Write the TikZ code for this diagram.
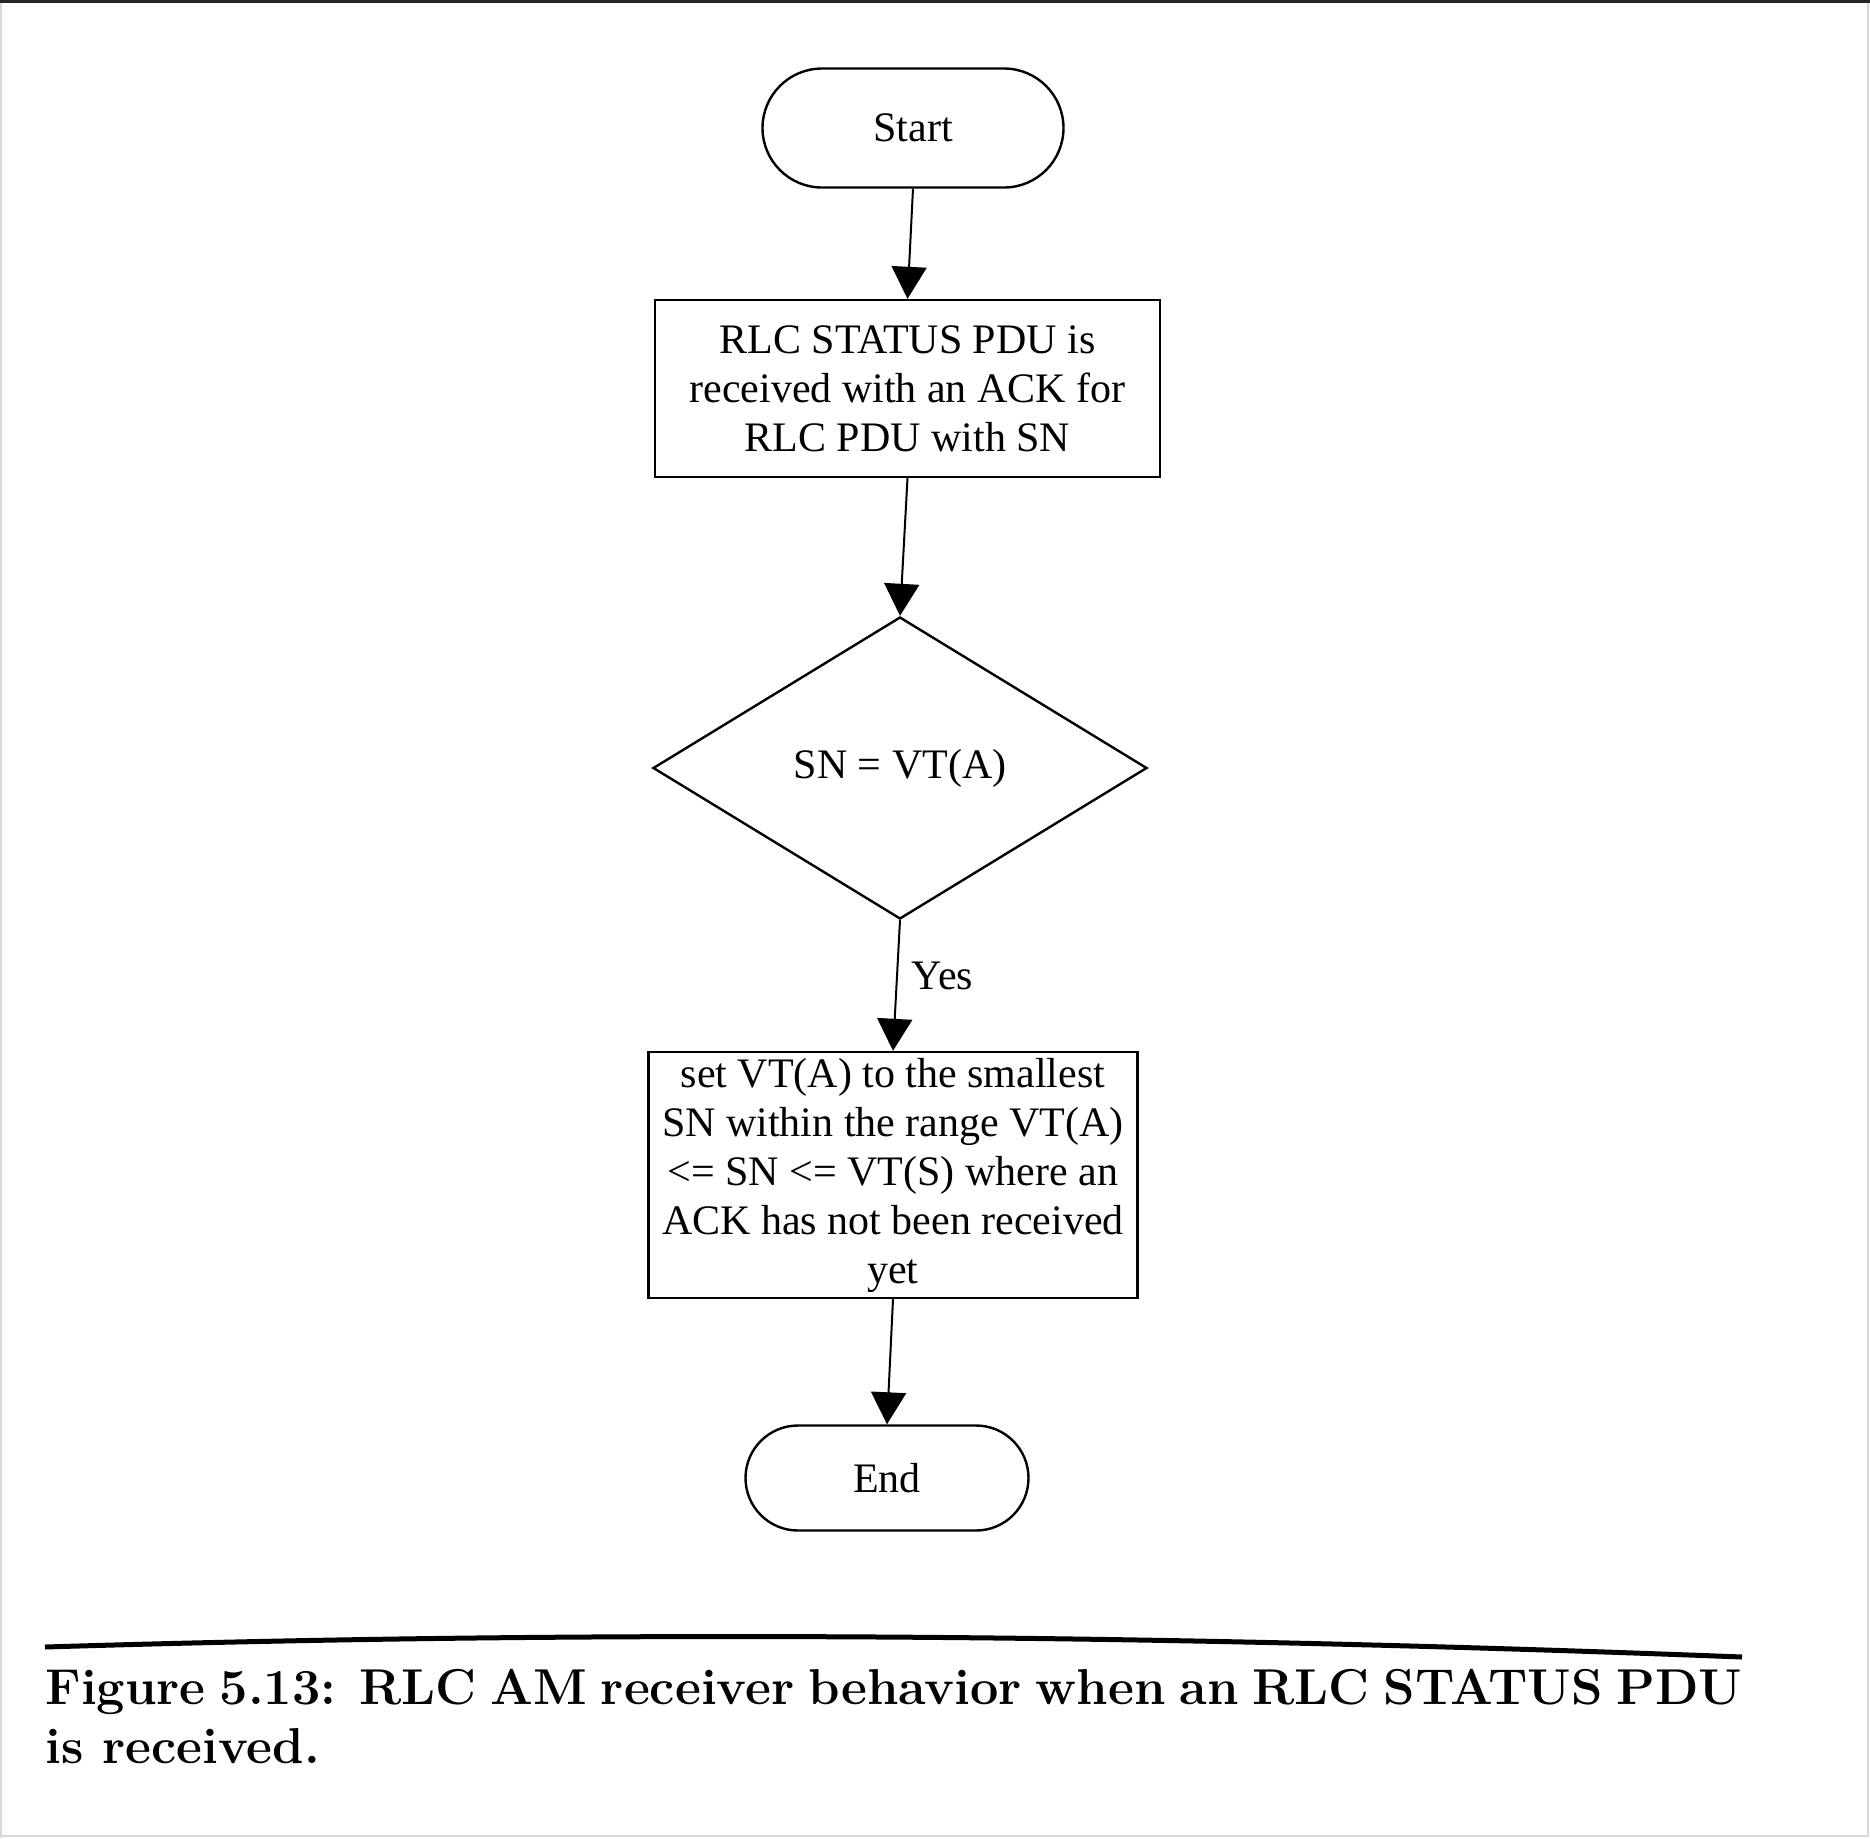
\documentclass[tikz,border=0pt]{standalone}
\usepackage{fontspec}
\newfontfamily\boxfont{Liberation Serif}
\usetikzlibrary{shapes}
\usetikzlibrary{arrows.meta}
\tikzset{
	flownode/.style = {align=center, inner sep=0pt, text centered,
		draw=black, line width=1.2pt, font=\boxfont\fontsize{21}{24.5}\selectfont},
	fc_term/.style = {flownode, rounded rectangle},% start / end
	fc_proc/.style = {flownode, rectangle},% action box
	fc_dec/.style = {flownode, diamond},% test
	fc_lbl/.style = {font=\boxfont\fontsize{21}{24.5}\selectfont, inner sep=7pt},% branch label
	fc_arr/.style = {-{Triangle[width=17.5pt,length=16pt]}, line width=1pt}
}
\begin{document}
\begin{tikzpicture}[x=0.5pt,y=-0.5pt]
	\useasboundingbox (0,0) rectangle (1870,1838);
	% page edges of the scan
	\draw[gray!30, line width=1pt] (1,1838) -- (1,3) (1868,3) -- (1868,1836) -- (1,1836);
	\draw[black!85, line width=1.2pt] (0,1.5) -- (1870,1.5);
	% flow chart
	\node[fc_term, minimum width=150.5pt, minimum height=59.5pt] (start) at (913,128) {Start};
	\node[fc_proc, minimum width=252.5pt, minimum height=88.5pt] (rcv) at (907.5,388.5)
		{RLC STATUS PDU is\\ received with an ACK for\\ RLC PDU with SN};
	\node[fc_dec, minimum width=247pt, minimum height=151pt] (cmp) at (900,768) {SN = VT(A)};
	\node[fc_proc, minimum width=244.5pt, minimum height=123pt] (upd) at (893,1175)
		{set VT(A) to the smallest\\ SN within the range VT(A)\\ <= SN <= VT(S) where an\\
		ACK has not been received\\ yet};
	\node[fc_term, minimum width=141.5pt, minimum height=52.5pt] (stop) at (887,1478) {End};
	\draw[fc_arr] (start.south) -- (rcv.north);
	\draw[fc_arr] (rcv.south) -- (cmp.north);
	\draw[fc_arr] (cmp.south) -- node[fc_lbl, right, pos=0.43] (yes) {Yes} (upd.north);
	\draw[fc_arr] (upd.south) -- (stop.north);
	% caption
	\draw[line width=2.5pt] (45,1647) .. controls (600,1630) and (1150,1634) .. (1742,1657);
	\node[anchor=north west, inner sep=0pt, text width=848.5pt, align=justify,
		font=\fontsize{25.2}{29.5}\selectfont\bfseries] (cap) at (45,1669)
		{Figure 5.13: RLC AM receiver behavior when an RLC STATUS PDU\linebreak is received.};
\end{tikzpicture}
\end{document}
